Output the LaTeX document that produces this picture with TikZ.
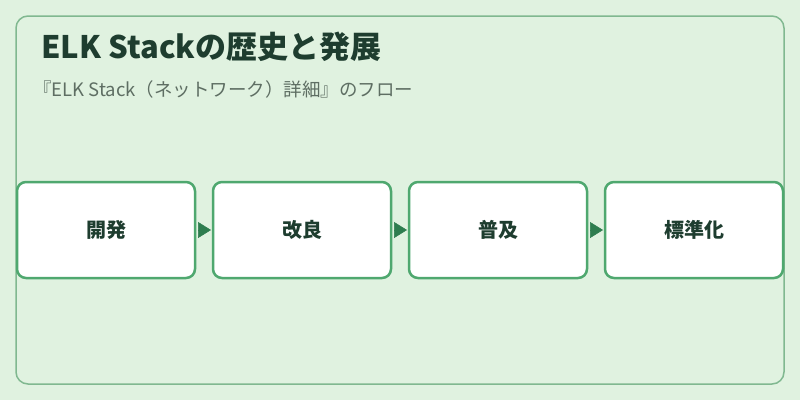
\documentclass[tikz,border=0pt]{standalone}
\usepackage{fontspec}
\setmainfont{Noto Sans CJK JP}
\usetikzlibrary{positioning,arrows.meta}
\definecolor{pagebg}{HTML}{E0F2E0}
\definecolor{framecol}{HTML}{80B890}
\definecolor{boxcol}{HTML}{4FA86F}
\definecolor{arrowcol}{HTML}{2E7D4F}
\definecolor{titlecol}{HTML}{1E3D2F}
\definecolor{subcol}{HTML}{5E6E63}
\begin{document}
\begin{tikzpicture}[x=1pt,y=-1pt,
    stage/.style={draw=boxcol,fill=white,line width=2.5pt,rounded corners=9pt,
      minimum width=178pt,minimum height=96pt,outer sep=0pt,inner sep=0pt,
      text=titlecol,font=\fontsize{20}{24}\selectfont\bfseries},
    flow/.style={-{Triangle[length=13pt,width=16pt]},arrowcol,line width=0.5pt,
      shorten <=3pt,shorten >=2pt}]
  \def\gap{18pt}
  \useasboundingbox (0,0) rectangle (800,400);
  \fill[pagebg] (0,0) rectangle (800,400);
  \draw[framecol,line width=1.5pt,rounded corners=12pt] (16,16) rectangle (784,384);
  \node[anchor=base west,inner sep=0pt,text=titlecol,font=\fontsize{31}{36}\selectfont\bfseries]
    (title) at (41,58) {ELK Stackの歴史と発展};
  \node[anchor=base west,inner sep=0pt,text=subcol,font=\fontsize{18.5}{22}\selectfont]
    (sub) at (33,96) {『ELK Stack（ネットワーク）詳細』のフロー};
  \node[stage] (dev) at (106,230) {開発};
  \node[stage,right=\gap of dev] (imp) {改良};
  \node[stage,right=\gap of imp] (pop) {普及};
  \node[stage,right=\gap of pop] (std) {標準化};
  \foreach \a/\b in {dev/imp,imp/pop,pop/std}
    \draw[flow] (\a.east) -- (\b.west);
\end{tikzpicture}
\end{document}
